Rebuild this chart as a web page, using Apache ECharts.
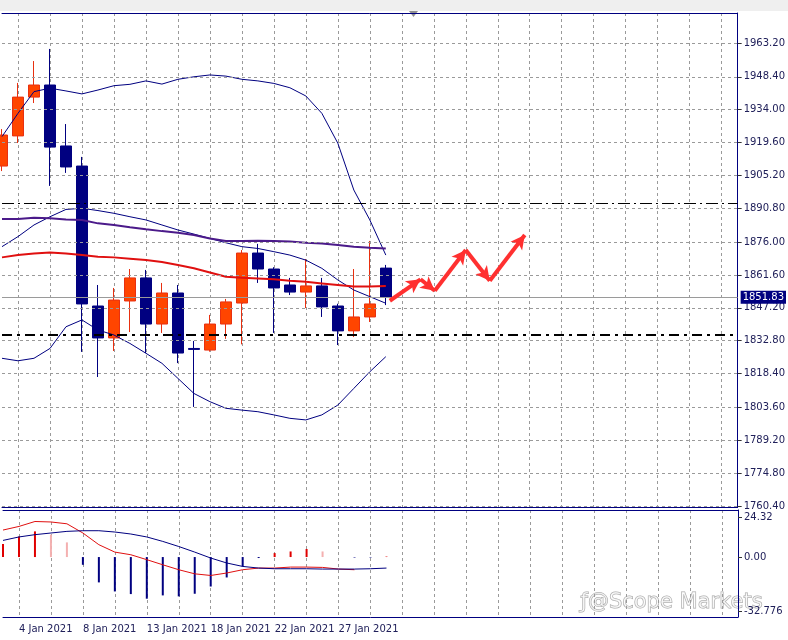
<!DOCTYPE html>
<html><head><meta charset="utf-8">
<script src="https://cdn.jsdelivr.net/npm/echarts@6/dist/echarts.min.js"></script>
<style>html,body{margin:0;padding:0;background:#fff}#c{width:788px;height:640px}</style>
</head><body><div id="c"></div>
<script>
const candleDates = ['31 Dec','4 Jan','5 Jan','6 Jan','7 Jan','8 Jan','10 Jan','11 Jan','12 Jan','13 Jan','14 Jan','15 Jan','17 Jan','18 Jan','19 Jan','20 Jan','21 Jan','22 Jan','24 Jan','25 Jan','26 Jan','27 Jan','28 Jan','29 Jan','31 Jan'];
const open  = [1909.3,1922.5,1939.5,1944.8,1918.1,1909.3,1848.0,1834.0,1850.2,1860.3,1840.1,1853.7,1829.4,1828.7,1840.1,1849.3,1871.2,1864.2,1857.2,1854.1,1856.8,1848.0,1837.1,1843.2,1864.6];
const close = [1922.9,1939.5,1944.8,1917.6,1908.9,1848.9,1834.0,1850.6,1860.3,1840.1,1853.7,1827.4,1829.0,1840.1,1849.8,1871.2,1864.2,1855.9,1854.1,1856.8,1847.6,1837.1,1843.2,1848.9,1851.83];
const low   = [1907.1,1919.4,1936.9,1900.6,1906.3,1827.9,1816.9,1828.3,1836.6,1827.4,1836.2,1823.0,1803.8,1828.0,1833.6,1831.2,1858.1,1836.2,1852.8,1847.1,1843.2,1830.9,1834.4,1841.0,1848.4];
const high  = [1925.5,1945.7,1955.3,1960.6,1927.7,1913.3,1857.2,1855.9,1864.2,1863.8,1858.1,1857.2,1832.7,1844.1,1851.1,1872.5,1875.2,1865.0,1860.3,1868.6,1860.3,1849.0,1864.2,1876.5,1866.0];
const bbUpper = [1922.2,1932.4,1941.9,1943.4,1942.2,1940.9,1942.6,1944.5,1945.1,1946.6,1945.2,1947.3,1948.4,1949.2,1948.7,1947.3,1946.6,1945.5,1943.6,1940.0,1932.4,1919.3,1898.8,1885.7,1870.3];
const bbMid   = [1874.0,1878.4,1883.5,1887.1,1890.3,1890.8,1889.8,1888.6,1887.1,1885.7,1883.5,1881.3,1879.5,1877.6,1875.7,1874.0,1873.2,1871.8,1870.3,1868.1,1864.5,1859.4,1855.0,1852.1,1849.2];
const bbLower = [1825.1,1824.0,1825.1,1829.4,1838.9,1841.9,1837.5,1835.3,1831.6,1827.3,1822.9,1816.3,1809.7,1806.1,1803.2,1802.4,1801.7,1800.3,1798.8,1798.1,1800.3,1804.6,1811.9,1819.2,1825.8];
const maSlow  = [1886.1,1886.1,1886.7,1886.4,1885.9,1885.7,1884.2,1883.5,1882.5,1881.6,1880.8,1880.1,1879.1,1877.6,1876.5,1876.5,1876.6,1876.5,1876.2,1875.7,1875.4,1874.7,1874.0,1873.5,1873.2];
const maFast  = [1869.3,1870.3,1871.0,1871.4,1871.0,1870.3,1869.6,1869.3,1868.7,1868.1,1867.3,1866.0,1864.5,1862.7,1860.8,1860.4,1860.1,1859.7,1859.1,1858.6,1857.9,1857.2,1856.5,1856.5,1856.8];
const macdHist = [7.9,12.5,15.6,13.6,8.9,-4.7,-15.4,-20.9,-22.5,-25.3,-23.3,-23.9,-22.3,-17.9,-12.4,-5.7,-0.6,2.4,3.4,4.9,3.4,0,-0.3,-0.3,0.3];
const macdRed  = [16.4,18.6,21.6,21.3,20.2,14.6,7.5,3.0,1.4,-1.6,-4.7,-7.7,-10.2,-11.2,-9.7,-7.7,-6.7,-6.7,-6.1,-6.1,-6.3,-7.3,-7.7,'-','-'];
const macdSig  = [10.1,12.2,13.6,14.6,15.6,16.0,16.0,15.2,14.0,12.2,9.5,6.4,3.0,-0.6,-3.6,-5.7,-6.7,-7.1,-7.1,-7.1,-7.3,-7.3,-7.3,-7.1,-6.7];
const priceTicks = [1963.20,1948.40,1934.00,1919.60,1905.20,1890.80,1876.00,1861.60,1847.20,1832.80,1818.40,1803.60,1789.20,1774.80,1760.40];
const macdTicks = [24.32,0,-32.776];
const dateLabels = {'4 Jan':'4 Jan 2021','8 Jan':'8 Jan 2021','13 Jan':'13 Jan 2021','18 Jan':'18 Jan 2021','22 Jan':'22 Jan 2021','27 Jan':'27 Jan 2021'};
const lastPrice = 1851.83;
const level1 = 1893.1, level2 = 1835.3;
const arrowPath = [[24.25,1850.3],[26.17,1859.7],[27.06,1854.7],[29.0,1872.5],[30.5,1859.1],[32.69,1879.1]];

const N = 47;
const cats = candleDates.slice();
while (cats.length < N) cats.push('f' + cats.length);
const pad = a => a.concat(new Array(N - a.length).fill('-'));
const kData = pad(open.map((o,i)=>[o, close[i], low[i], high[i]]));
const histData = pad(macdHist.map((v,i)=>{
  const prev = i>0 ? macdHist[i-1] : 0;
  const c = v < 0 ? '#000080' : (v >= prev ? '#e00000' : '#f4b0b0');
  return {value: v, itemStyle: {color: c}};
}));
const gridDash = {color:'#9a9a9a', type:[3,3], width:1};
const navy = '#000080';
const labelFont = {fontFamily:'DejaVu Sans', fontSize:10, color:'#20205a'};

const xCommon = {type:'category', data:cats, boundaryGap:false, axisTick:{show:false},
  axisLine:{show:true, onZero:false, lineStyle:{color:navy, width:1}},
  splitLine:{show:true, interval:(i)=>i%2===1, lineStyle:gridDash}};
const borderAxis = (g)=>({type:'category', data:cats, gridIndex:g, position:'top', boundaryGap:false,
  axisLine:{show:true, onZero:false, lineStyle:{color:navy}}, axisTick:{show:false}, axisLabel:{show:false}, splitLine:{show:false}});

const option = {
  animation:false, backgroundColor:'#fff',
  grid:[{left:2, width:736, top:13, height:494},
        {left:2, width:736, top:510, height:107}],
  xAxis:[Object.assign({gridIndex:0, axisLabel:{show:false}}, xCommon),
         Object.assign({gridIndex:1, axisLabel:Object.assign({show:true, interval:0, align:'left', margin:7,
            formatter:(v)=>dateLabels[v]||''}, labelFont)}, xCommon),
         {type:'value', gridIndex:0, min:0, max:N-1, show:false},
         borderAxis(0), borderAxis(1)],
  yAxis:[{type:'value', gridIndex:0, position:'right', min:1759.96, max:1976.34,
          axisLine:{show:true, onZero:false, lineStyle:{color:navy}}, splitLine:{show:false},
          axisTick:{show:true, length:4, customValues:priceTicks, lineStyle:{color:'#333'}},
          axisLabel:Object.assign({customValues:priceTicks, margin:6, formatter:v=>v.toFixed(2)}, labelFont)},
         {type:'value', gridIndex:1, position:'right', min:-36.42, max:28.58,
          axisLine:{show:true, onZero:false, lineStyle:{color:navy}}, splitLine:{show:false},
          axisTick:{show:true, length:4, customValues:macdTicks, lineStyle:{color:'#333'}},
          axisLabel:Object.assign({customValues:macdTicks, margin:6, formatter:v=>v===0?'0.00':String(v)}, labelFont)}],
  series:[
    {type:'line', data:pad(bbUpper), symbol:'none', lineStyle:{color:navy, width:1},
     markLine:{silent:true, symbol:'none', label:{show:false}, lineStyle:gridDash,
       data: priceTicks.map(v=>({yAxis:v}))}},
    {type:'line', data:pad(bbMid), symbol:'none', lineStyle:{color:navy, width:1},
     markLine:{silent:true, symbol:'none', label:{show:false},
       data:[{yAxis:level1, lineStyle:{color:'#000', width:1, type:[12,4,2,4]}},
             {yAxis:level2, lineStyle:{color:'#000', width:2.2, type:[10,5,3,5]}},
             {yAxis:lastPrice, lineStyle:{color:'#9a9a9a', width:1, type:'solid'},
              label:{show:true, position:'end', distance:3, formatter:lastPrice.toFixed(2), color:'#fff',
                backgroundColor:navy, padding:[2,2,1,2], fontFamily:'DejaVu Sans', fontSize:10}}]}},
    {type:'line', data:pad(bbLower), symbol:'none', lineStyle:{color:navy, width:1}},
    {type:'line', data:pad(maSlow), symbol:'none', lineStyle:{color:'#4b1a8a', width:2}},
    {type:'line', data:pad(maFast), symbol:'none', lineStyle:{color:'#e01010', width:2}},
    {type:'candlestick', xAxisIndex:0, yAxisIndex:0, data:kData, barWidth:11,
     itemStyle:{color:'#ff4500', color0:navy, borderColor:'#e83010', borderColor0:navy, borderWidth:1}},
    {type:'line', xAxisIndex:2, yAxisIndex:0, data:arrowPath, symbol:'none', lineStyle:{width:0}, silent:true,
     markLine:{silent:true, symbol:['none','arrow'], symbolSize:[11,14], label:{show:false},
       lineStyle:{color:'#ff3030', width:4, type:'solid'},
       data: arrowPath.slice(0,-1).map((p,i)=>[{coord:p},{coord:arrowPath[i+1]}])}},
    {type:'bar', xAxisIndex:1, yAxisIndex:1, data:histData, barWidth:2},
    {type:'line', xAxisIndex:1, yAxisIndex:1, data:pad(macdRed), symbol:'none', lineStyle:{color:'#e01010', width:1}},
    {type:'line', xAxisIndex:1, yAxisIndex:1, data:pad(macdSig), symbol:'none', lineStyle:{color:navy, width:1}}
  ],
  graphic:[
    {type:'rect', shape:{x:0,y:0,width:788,height:11}, style:{fill:'#efefef'}, silent:true},
    {type:'polygon', shape:{points:[[409,11],[418,11],[413.5,17]]}, style:{fill:'#909090'}, silent:true},
    {type:'text', left:580, top:592, silent:true, style:{text:'\u0192@Scope Markets', font:'21px "DejaVu Sans"',
      fill:'rgba(255,255,255,0.6)', stroke:'rgba(90,90,90,0.55)', lineWidth:1}}
  ]
};
echarts.init(document.getElementById('c')).setOption(option);
</script></body></html>
